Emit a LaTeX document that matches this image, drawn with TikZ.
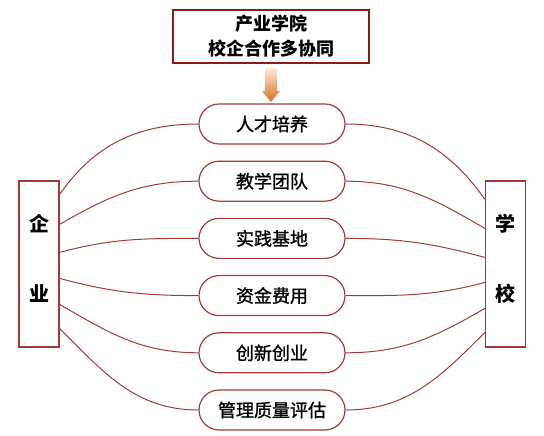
\documentclass[tikz,border=0pt]{standalone}
\usepackage{fontspec}
\setmainfont{Noto Sans CJK SC}
\newfontfamily\medfont[FakeBold=1.2]{Noto Sans CJK SC}
\usetikzlibrary{arrows.meta, positioning, calc}
\definecolor{frame}{HTML}{8B1A1A}
\definecolor{link}{HTML}{A33A3A}
\definecolor{arrowTop}{HTML}{FCE9DC}
\definecolor{arrowBot}{HTML}{DC6E22}
\tikzset{
  header/.style={
    rectangle, draw=frame, line width=2pt, minimum width=196pt, minimum height=53pt,
    align=center, fill=white, font=\bfseries\fontsize{18}{25}\selectfont
  },
  pill/.style={
    rectangle, draw=link, line width=1.2pt, rounded corners=20pt,
    minimum width=146pt, minimum height=40pt, fill=white, font=\medfont\fontsize{18}{20}\selectfont
  },
  side/.style={
    rectangle, draw=link, line width=1.2pt, minimum width=40pt, minimum height=166pt,
    align=center, fill=white, font=\bfseries\fontsize{20}{24}\selectfont
  },
  conn/.style={draw=link, line width=1pt}
}

\begin{document}
\begin{tikzpicture}[x=1pt, y=1pt, node distance=16pt]
\useasboundingbox (0,0) rectangle (544,436);

% ---------------- Header ----------------
\node[header] (college) at (271,399.5) {产业学院\\校企合作多协同};
\shade[top color=arrowTop, bottom color=arrowBot]
  ($(college.south)+(-6,-4)$) -- ($(college.south)+(6,-4)$) -- ($(college.south)+(6,-27)$)
  -- ($(college.south)+(9,-27)$) -- ($(college.south)+(0,-38)$) -- ($(college.south)+(-9,-27)$)
  -- ($(college.south)+(-6,-27)$) -- cycle;

% ---------------- Items ----------------
\node[pill] (talent) at (272,312) {人才培养};
\node[pill, below=of talent] (team) {教学团队};
\node[pill, below=of team] (base) {实践基地};
\node[pill, below=of base] (fund) {资金费用};
\node[pill, below=of fund] (startup) {创新创业};
\node[pill, below=of startup] (quality) {管理质量评估};

% ---------------- Sides ----------------
\node[side] (firm) at (39,172) {企\\[46pt]业\rule[-12pt]{0pt}{1pt}};
\node[side] (school) at (505.5,172) {学\\[46pt]校\rule[-12pt]{0pt}{1pt}};

\foreach \p/\dl/\al/\dr/\ar in {talent/14/55/19/125, team/44/30/48/150, base/72/15/77/165,
    fund/98/-15/102/195, startup/124/-30/128/210, quality/148/-45/152/225} {
  \draw[conn] ([yshift=-\dl pt]firm.north east) to[out=\al, in=180] (\p.west);
  \draw[conn] (\p.east) to[out=0, in=\ar] ([yshift=-\dr pt]school.north west);
}

\end{tikzpicture}
\end{document}
